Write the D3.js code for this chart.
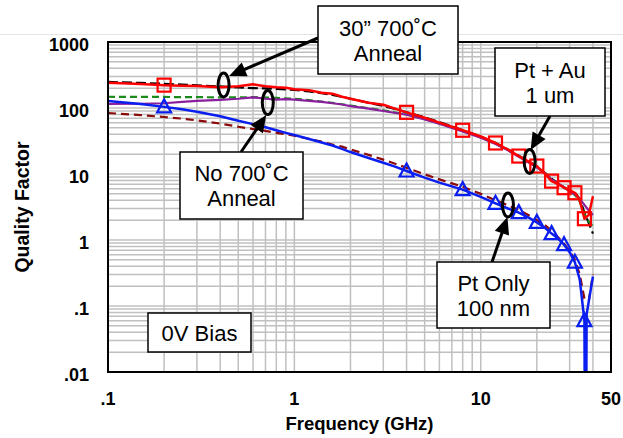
<!DOCTYPE html>
<html>
<head>
<meta charset="utf-8">
<script src="https://cdn.jsdelivr.net/npm/d3@7"></script>
<style>
  body { margin: 0; background: #fff; }
  svg { display: block; font-family: "Liberation Sans", Arial, sans-serif; }
</style>
</head>
<body>
<div id="chart"></div>
<script>
// frequency grid (GHz) shared by most curves
const freqs = [0.1, 0.15, 0.2, 0.25, 0.3, 0.4, 0.5, 0.6, 0.7, 0.8, 0.9, 1, 1.2, 1.4, 1.6, 1.8, 2, 2.5, 3, 3.5, 4,
  5, 6, 7, 8, 10, 12, 14, 16, 18, 20, 22, 24, 26, 28, 30, 32, 34, 36, 38, 40];

// Pt + Au, 30" anneal (red, squares)
const redQ = [241, 232, 222, 218, 215, 207, 213, 229, 214, 206, 203, 192, 186, 170, 165, 148, 138, 120, 112, 97, 86,
  71, 60, 52, 46, 37, 29.5, 23.5, 18.7, 15.5, 13.2, 10.2, 7.8, 7, 6.2, 5.7, 5.2, 4.0, 2.1, 2.4, 4.6];
// black dashed
const blackQ = [248, 240, 232, 226, 220, 212, 205, 200, 198, 195, 192, 188, 178, 168, 158, 148, 138, 120, 108, 96, 86,
  72, 61, 53, 46, 37, 29.5, 23.5, 19, 15.5, 13, 10.5, 8.5, 7.2, 6.2, 5.6, 5.2, 4.2, 2.6, 1.8, 1.25];
// green dashed
const greenQ = [148, 147, 147, 146, 146, 145, 145, 146, 144, 142, 140, 138, 132, 125, 120, 114, 109, 99, 92, 85, 80,
  68, 58, 51, 45, 36, 29, 23, 18.5, 15.2, 12.8, 10.5, 8.4, 7.2, 6.3, 5.5, 4.8, 3.8, 2.5, 1.9, 1.6];
// purple solid
const purpleQ = [115, 116, 118, 124, 128, 133, 138, 145, 138, 134, 136, 134, 128, 124, 118, 113, 107, 98, 90, 84, 79,
  67, 58, 50, 44, 35.5, 28.5, 22.8, 18.3, 15, 12.6, 10.3, 8.3, 7.2, 6.3, 5.5, 4.9, 4.2, 3.4, 2.8, 2.4];
// maroon dashed (Pt only, no anneal)
const maroonQ = [84, 78, 73, 69, 65, 58, 52, 48, 45, 42, 40, 38, 34, 31, 28, 26, 23.5, 19.5, 16.5, 14.2, 12.4,
  9.9, 8.3, 7.2, 6.4, 5.0, 4.0, 3.35, 2.85, 2.4, 2.0, 1.7, 1.38, 1.1, 0.88, 0.68, 0.5, 0.3, 0.13, 0.12, 0.3];

// Pt only 100 nm (blue, triangles) - dips through zero near 36.5 GHz
const blueF = [0.1, 0.15, 0.2, 0.25, 0.3, 0.4, 0.5, 0.6, 0.7, 0.8, 0.9, 1, 1.2, 1.4, 1.6, 1.8, 2, 2.5, 3, 3.5, 4,
  5, 6, 7, 8, 10, 12, 14, 16, 18, 20, 22, 24, 26, 28, 30, 32, 34, 36, 36.5, 37, 40];
const blueQ = [128, 115, 104, 96, 88, 75, 64, 57, 51, 46, 42, 39, 34, 30, 27, 24, 21.5, 17.5, 14.8, 12.8, 11.1,
  8.8, 7.4, 6.5, 5.8, 4.5, 3.6, 3.0, 2.6, 2.2, 1.85, 1.55, 1.25, 1.05, 0.85, 0.65, 0.46, 0.25, 0.06, 0.00001, 0.075, 0.28];

const markerF = [0.2, 4, 8, 12, 16, 20, 24, 28, 32, 36];

const xTicks = [0.1, 1, 10, 50];
const xTickLabels = [".1", "1", "10", "50"];
const yTicks = [0.01, 0.1, 1, 10, 100, 1000];
const yTickLabels = [".01", ".1", "1", "10", "100", "1000"];

const W = 623, H = 438;
const plot = { left: 108, top: 42, right: 611, bottom: 372 };

const svg = d3.select("#chart").append("svg")
  .attr("width", W).attr("height", H);

const x = d3.scaleLog().domain([0.1, 50]).range([plot.left, plot.right]);
const y = d3.scaleLog().domain([0.01, 1000]).range([plot.bottom, plot.top]);

// faint page line at the top
svg.append("line")
  .attr("x1", 0).attr("x2", W).attr("y1", 34.5).attr("y2", 34.5)
  .attr("stroke", "#e4e4e4").attr("stroke-width", 1);

// grid
const grid = svg.append("g").attr("stroke", "#c0c0c0").attr("stroke-width", 1.5);
grid.selectAll(".vx").data(x.ticks()).join("line")
  .attr("x1", d => x(d)).attr("x2", d => x(d))
  .attr("y1", plot.top).attr("y2", plot.bottom);
grid.selectAll(".hy").data(y.ticks()).join("line")
  .attr("y1", d => y(d)).attr("y2", d => y(d))
  .attr("x1", plot.left).attr("x2", plot.right);

svg.append("clipPath").attr("id", "clip").append("rect")
  .attr("x", plot.left).attr("y", plot.top)
  .attr("width", plot.right - plot.left).attr("height", plot.bottom - plot.top);

const line = d3.line().x(d => x(d[0])).y(d => y(d[1]));
const zip = (fs, qs) => fs.map((f, i) => [f, qs[i]]);

const series = [
  { q: blackQ, f: freqs, color: "#000000", dash: "10,4", w: 2.2 },
  { q: greenQ, f: freqs, color: "#1a8a1a", dash: "7,4", w: 2.2 },
  { q: purpleQ, f: freqs, color: "#8a1f9e", dash: null, w: 2.2 },
  { q: maroonQ, f: freqs, color: "#8b0a0a", dash: "8,5", w: 2.2 },
  { q: blueQ, f: blueF, color: "#0a1ef0", dash: null, w: 2.5 },
  { q: redQ, f: freqs, color: "#ff0000", dash: null, w: 2.5 }
];

const lines = svg.append("g").attr("clip-path", "url(#clip)");
series.forEach(s => {
  lines.append("path")
    .attr("d", line(zip(s.f, s.q)))
    .attr("fill", "none")
    .attr("stroke", s.color)
    .attr("stroke-width", s.w)
    .attr("stroke-dasharray", s.dash)
    .attr("stroke-linejoin", "round");
});

// markers
const qAt = (fs, qs, f) => qs[fs.indexOf(f)];
const marks = svg.append("g");
marks.selectAll("rect").data(markerF).join("rect")
  .attr("x", d => x(d) - 6.5).attr("y", d => y(qAt(freqs, redQ, d)) - 6.5)
  .attr("width", 13).attr("height", 13)
  .attr("fill", "none").attr("stroke", "#ff0000").attr("stroke-width", 2.2);
marks.selectAll("path").data(markerF).join("path")
  .attr("d", d => {
    const cx = x(d), cy = y(qAt(blueF, blueQ, d));
    return `M${cx},${cy - 7.5}L${cx + 7},${cy + 5.5}L${cx - 7},${cy + 5.5}Z`;
  })
  .attr("fill", "none").attr("stroke", "#0a1ef0").attr("stroke-width", 2.2)
  .attr("stroke-linejoin", "miter");

// frame
svg.append("rect")
  .attr("x", plot.left).attr("y", plot.top)
  .attr("width", plot.right - plot.left).attr("height", plot.bottom - plot.top)
  .attr("fill", "none").attr("stroke", "#000").attr("stroke-width", 2);

// tick labels
svg.append("g").selectAll("text").data(yTicks).join("text")
  .attr("x", 89).attr("y", d => y(d) + 8.5)
  .attr("text-anchor", "end")
  .attr("font-size", 18).attr("font-weight", "bold")
  .text((d, i) => yTickLabels[i]);
svg.append("g").selectAll("text").data(xTicks).join("text")
  .attr("x", d => x(d)).attr("y", 405)
  .attr("text-anchor", "middle")
  .attr("font-size", 18).attr("font-weight", "bold")
  .text((d, i) => xTickLabels[i]);

// axis titles
svg.append("text")
  .attr("x", (plot.left + plot.right) / 2).attr("y", 430)
  .attr("text-anchor", "middle").attr("font-size", 18.5).attr("font-weight", "bold")
  .text("Frequency (GHz)");
svg.append("text")
  .attr("transform", `translate(28.5,${(plot.top + plot.bottom) / 2}) rotate(-90)`)
  .attr("text-anchor", "middle").attr("font-size", 19.5).attr("font-weight", "bold")
  .text("Quality Factor");

// annotations: callout boxes, arrows and ellipses circling the curves
const notes = [
  { box: [318, 6, 458, 74], lines: ["30\u201d 700\u02daC", "Anneal"], from: [318, 38], ell: [0.417, 223], tip: [5.5, -9] },
  { box: [180, 152, 303, 219], lines: ["No 700\u02daC", "Anneal"], from: [241, 152], ell: [0.72, 121], tip: [-1.5, 12.5] },
  { box: [495, 48, 605, 116], lines: ["Pt + Au", "1 um"], from: [550, 116], ell: [18.3, 15.5], tip: [1, -11.5] },
  { box: [437, 262, 550, 328], lines: ["Pt Only", "100 nm"], from: [492, 262], ell: [14.0, 3.39], tip: [-0.5, 12] },
  { box: [148, 313, 251, 352], lines: ["0V Bias"] }
];

const ann = svg.append("g");
notes.forEach(n => {
  if (n.ell) {
    const cx = x(n.ell[0]), cy = y(n.ell[1]);
    ann.append("ellipse")
      .attr("cx", cx).attr("cy", cy).attr("rx", 5.5).attr("ry", 12)
      .attr("fill", "none").attr("stroke", "#000").attr("stroke-width", 3);
    const tx = cx + n.tip[0], ty = cy + n.tip[1];
    const [sx, sy] = n.from;
    const len = Math.hypot(tx - sx, ty - sy);
    const ux = (tx - sx) / len, uy = (ty - sy) / len;
    const hl = 17, hw = 7.5;
    const bx = tx - ux * hl, by = ty - uy * hl;
    ann.append("line")
      .attr("x1", sx).attr("y1", sy).attr("x2", bx + ux * 2).attr("y2", by + uy * 2)
      .attr("stroke", "#000").attr("stroke-width", 3);
    ann.append("path")
      .attr("d", `M${tx},${ty}L${bx - uy * hw},${by + ux * hw}L${bx + uy * hw},${by - ux * hw}Z`)
      .attr("fill", "#000");
  }
  const [x0, y0, x1, y1] = n.box;
  ann.append("rect")
    .attr("x", x0).attr("y", y0).attr("width", x1 - x0).attr("height", y1 - y0)
    .attr("fill", "#fff").attr("stroke", "#000").attr("stroke-width", 1.5);
  const cx = (x0 + x1) / 2, cy = (y0 + y1) / 2;
  const first = n.lines.length === 1 ? cy + 8 : cy - 4.5;
  n.lines.forEach((t, i) => {
    ann.append("text")
      .attr("x", cx).attr("y", first + i * 25)
      .attr("text-anchor", "middle").attr("font-size", 22)
      .text(t);
  });
});
</script>
</body>
</html>
